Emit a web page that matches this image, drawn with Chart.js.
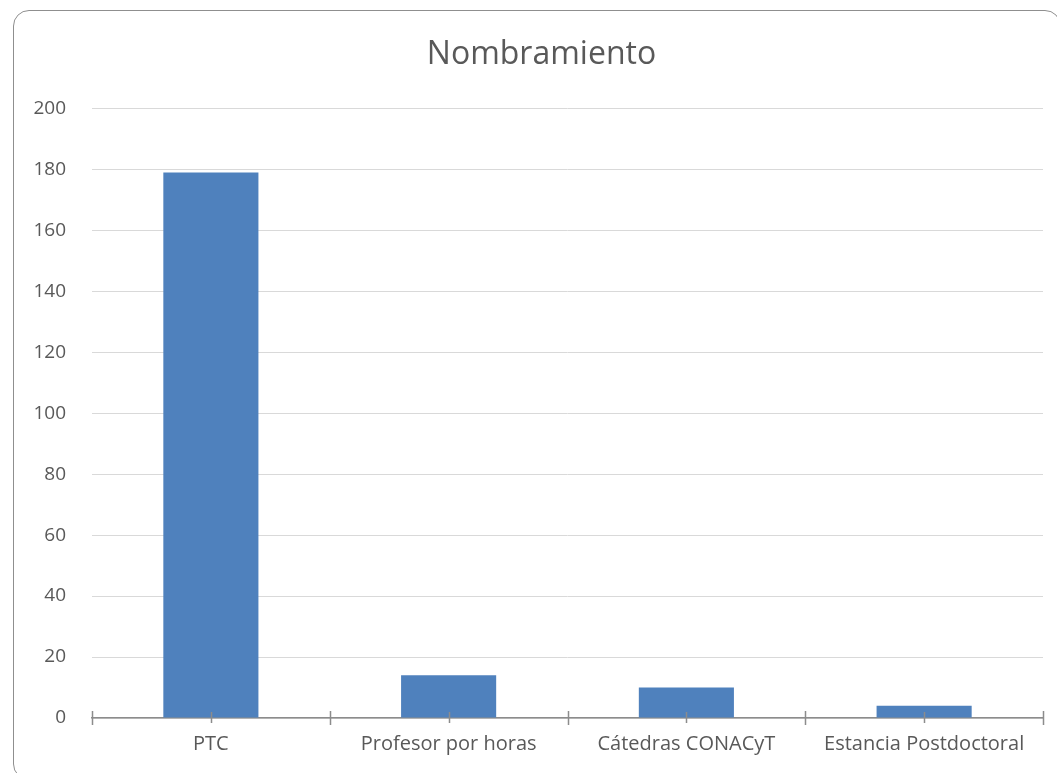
<!DOCTYPE html>
<html>
<head>
<meta charset="utf-8">
<script src="https://cdn.jsdelivr.net/npm/chart.js@4"></script>
<style>
    html, body { margin: 0; padding: 0; background: #fff; overflow: hidden; }
    #wrap { position: relative; width: 1057px; height: 773px; }
    #frame {
        position: absolute; left: 13px; top: 10px; width: 1046px; height: 768px;
        border: 1.5px solid #8f8f8f; border-radius: 16px; pointer-events: none;
    }
    canvas { position: absolute; left: 0; top: 0; }
</style>
</head>
<body>
<div id="wrap">
    <canvas id="grafica" width="1057" height="773"></canvas>
    <div id="frame"></div>
</div>
<script>
// Datos de la gráfica
const categorias = ['PTC', 'Profesor por horas', 'Cátedras CONACyT', 'Estancia Postdoctoral'];
const valores = [179, 14, 10, 4];
const ticksY = [0, 20, 40, 60, 80, 100, 120, 140, 160, 180, 200];

const gris = '#595959';

// Centrar el título sobre el marco (como en Excel)
const tituloCentrado = {
    id: 'tituloCentrado',
    afterLayout(chart) {
        if (chart.titleBlock) {
            chart.titleBlock.left = 40;
        }
    }
};

// Marcas cruzadas sobre el eje X (estilo Excel)
const marcasEjeX = {
    id: 'marcasEjeX',
    afterDraw(chart) {
        const x = chart.scales.x;
        const ctx = chart.ctx;
        const y0 = x.top;
        const n = categorias.length;
        const paso = (x.right - x.left) / n;
        ctx.save();
        ctx.strokeStyle = '#8c8c8c';
        ctx.lineWidth = 1.5;
        ctx.beginPath();
        for (let i = 0; i <= n; i++) {
            const px = Math.round(x.left + i * paso) + 0.5;
            ctx.moveTo(px, y0 - 7);
            ctx.lineTo(px, y0 + 7);
        }
        for (let i = 0; i < n; i++) {
            const px = Math.round(x.getPixelForTick(i)) + 0.5;
            ctx.moveTo(px, y0 - 6);
            ctx.lineTo(px, y0 + 5);
        }
        ctx.stroke();
        ctx.restore();
    }
};

const ctx = document.getElementById('grafica').getContext('2d');
window.myChart = new Chart(ctx, {
    type: 'bar',
    data: {
        labels: categorias,
        datasets: [{
            label: 'Nombramiento',
            data: valores,
            backgroundColor: '#4f81bd',
            borderWidth: 0,
            barPercentage: 0.4,
            categoryPercentage: 1.0
        }]
    },
    options: {
        responsive: false,
        animation: false,
        layout: { padding: { top: 26, right: 14, bottom: 0, left: 0 } },
        plugins: {
            legend: { display: false },
            tooltip: { enabled: false },
            title: {
                display: true,
                text: 'Nombramiento',
                color: gris,
                font: { family: 'Open Sans', size: 32, weight: 'normal' },
                padding: { top: 10, bottom: 34 }
            }
        },
        scales: {
            y: {
                min: 0,
                max: 200,
                afterBuildTicks: function(scale) {
                    scale.ticks = ticksY.map(v => ({ value: v }));
                },
                afterFit: function(scale) { scale.width = 92; },
                border: { display: false },
                grid: { color: '#d9d9d9', lineWidth: 1, drawTicks: false },
                ticks: {
                    color: gris,
                    padding: 26,
                    font: { family: 'Open Sans', size: 19 }
                }
            },
            x: {
                afterFit: function(scale) { scale.height = 55; },
                border: { display: true, color: '#8c8c8c', width: 1.5 },
                grid: { display: false, drawTicks: false },
                ticks: {
                    color: gris,
                    padding: 14,
                    maxRotation: 0,
                    font: { family: 'Open Sans', size: 20 }
                }
            }
        }
    },
    plugins: [tituloCentrado, marcasEjeX]
});
</script>
</body>
</html>
